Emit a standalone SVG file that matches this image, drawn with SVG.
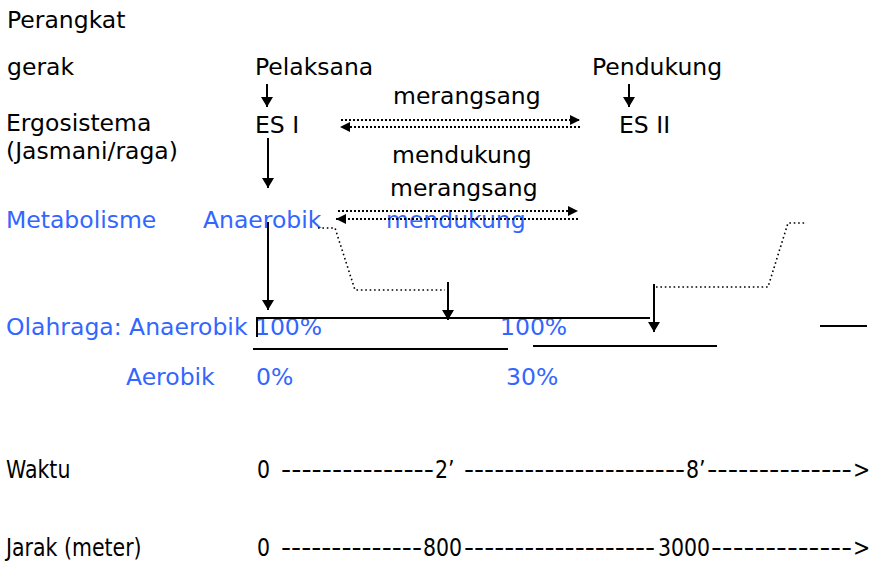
<svg xmlns="http://www.w3.org/2000/svg" width="880" height="584" viewBox="0 0 880 584">
  <defs>
    <marker id="head" viewBox="0 0 10 12" refX="10" refY="6" markerWidth="10" markerHeight="12" markerUnits="userSpaceOnUse" orient="auto">
      <path d="M0,0 L10,6 L0,12 z" fill="#000"/>
    </marker>
    <marker id="headSmall" viewBox="0 0 10 10" refX="10" refY="5" markerWidth="10" markerHeight="10" markerUnits="userSpaceOnUse" orient="auto">
      <path d="M0,0 L10,5 L0,10 z" fill="#000"/>
    </marker>
  </defs>
  <style>
    text { font-family: "DejaVu Sans", Verdana, sans-serif; font-size: 23.5px; fill: #000; }
    .blue { fill: #3366ff; }
    .cond { font-size: 25px; }
    .solid { stroke: #000; stroke-width: 2; fill: none; }
    .arrow { stroke: #000; stroke-width: 2; fill: none; marker-end: url(#head); }
    .dotarrow { stroke: #000; stroke-width: 2; stroke-dasharray: 2 2; fill: none; marker-end: url(#headSmall); }
    .dotpath { stroke: #000; stroke-width: 1.6; stroke-dasharray: 1.6 2.8; fill: none; }
  </style>
  <rect width="880" height="584" fill="#fff"/>

  <!-- row labels -->
  <g id="label-perangkat"><text x="7" y="28">Perangkat</text></g>
  <g id="label-gerak"><text x="7" y="75">gerak</text></g>
  <g id="label-ergosistema"><text x="6" y="131">Ergosistema</text><text x="6" y="159">(Jasmani/raga)</text></g>
  <g id="label-metabolisme"><text class="blue" x="6" y="228">Metabolisme</text></g>
  <g id="label-olahraga"><text class="blue" x="6" y="335">Olahraga: Anaerobik 100%</text></g>
  <g id="label-aerobik"><text class="blue" x="126" y="385">Aerobik</text><text class="blue" x="256" y="385">0%</text></g>

  <!-- movement units -->
  <g id="node-pelaksana"><text x="255" y="75">Pelaksana</text></g>
  <g id="node-pendukung"><text x="592" y="75">Pendukung</text></g>
  <g id="node-es1"><text x="255" y="133">ES I</text></g>
  <g id="node-es2"><text x="619" y="133">ES II</text></g>
  <g id="node-anaerobik"><text class="blue" x="203" y="228">Anaerobik</text></g>

  <!-- relation labels -->
  <g id="rel-es">
    <text x="393" y="104">merangsang</text>
    <text x="392" y="163">mendukung</text>
  </g>
  <g id="rel-metabolisme">
    <text x="390" y="196">merangsang</text>
    <text class="blue" x="386" y="228">mendukung</text>
  </g>

  <!-- percentages -->
  <g id="pct-mid"><text class="blue" x="500" y="335">100%</text><text class="blue" x="506" y="385">30%</text></g>

  <!-- connectors -->
  <g id="connectors">
    <line class="arrow" x1="267" y1="84" x2="267" y2="107"/>
    <line class="arrow" x1="629" y1="84" x2="629" y2="107"/>
    <line class="arrow" x1="268" y1="138" x2="268" y2="188"/>
    <line class="arrow" x1="268" y1="222" x2="268" y2="310"/>
    <line class="arrow" x1="448" y1="282" x2="448" y2="320"/>
    <line class="arrow" x1="654" y1="284" x2="654" y2="332"/>

    <line class="dotarrow" x1="341" y1="120" x2="580" y2="120"/>
    <line class="dotarrow" x1="580" y1="127" x2="340" y2="127"/>
    <line class="dotarrow" x1="338" y1="211" x2="578" y2="211"/>
    <line class="dotarrow" x1="578" y1="219" x2="336" y2="219"/>

    <polyline class="dotpath" points="318,228 335,228 355,290 445,290"/>
    <polyline class="dotpath" points="656,287 768,287 788,223 807,223"/>

    <polyline class="solid" points="257,337 257,318 650,318"/>
    <line class="solid" x1="253" y1="349" x2="508" y2="349"/>
    <line class="solid" x1="533" y1="346" x2="717" y2="346"/>
    <line class="solid" x1="820" y1="326" x2="867" y2="326"/>
  </g>

  <!-- time axis (narrow lettering: group squeezed horizontally) -->
  <g id="axis-waktu" transform="scale(0.82,1)">
    <text class="cond" x="7.3" y="478">Waktu</text>
    <text class="cond" x="313.4" y="478">0</text>
    <text class="cond" x="342.7" y="478" textLength="186.6" lengthAdjust="spacingAndGlyphs">---------------</text>
    <text class="cond" x="530.5" y="478">2’</text>
    <text class="cond" x="565.9" y="478" textLength="269.5" lengthAdjust="spacingAndGlyphs">----------------------</text>
    <text class="cond" x="836.6" y="478">8’</text>
    <text class="cond" x="862.2" y="478" textLength="176.8" lengthAdjust="spacingAndGlyphs">--------------</text>
    <text class="cond" x="1040.2" y="478">&gt;</text>
  </g>

  <!-- distance axis -->
  <g id="axis-jarak" transform="scale(0.82,1)">
    <text class="cond" x="7.3" y="556">Jarak (meter)</text>
    <text class="cond" x="313.4" y="556">0</text>
    <text class="cond" x="342.7" y="556" textLength="171.9" lengthAdjust="spacingAndGlyphs">--------------</text>
    <text class="cond" x="515.9" y="556">800</text>
    <text class="cond" x="565.9" y="556" textLength="233" lengthAdjust="spacingAndGlyphs">-------------------</text>
    <text class="cond" x="802.4" y="556">3000</text>
    <text class="cond" x="867.1" y="556" textLength="171.9" lengthAdjust="spacingAndGlyphs">-------------</text>
    <text class="cond" x="1040.2" y="556">&gt;</text>
  </g>
</svg>
